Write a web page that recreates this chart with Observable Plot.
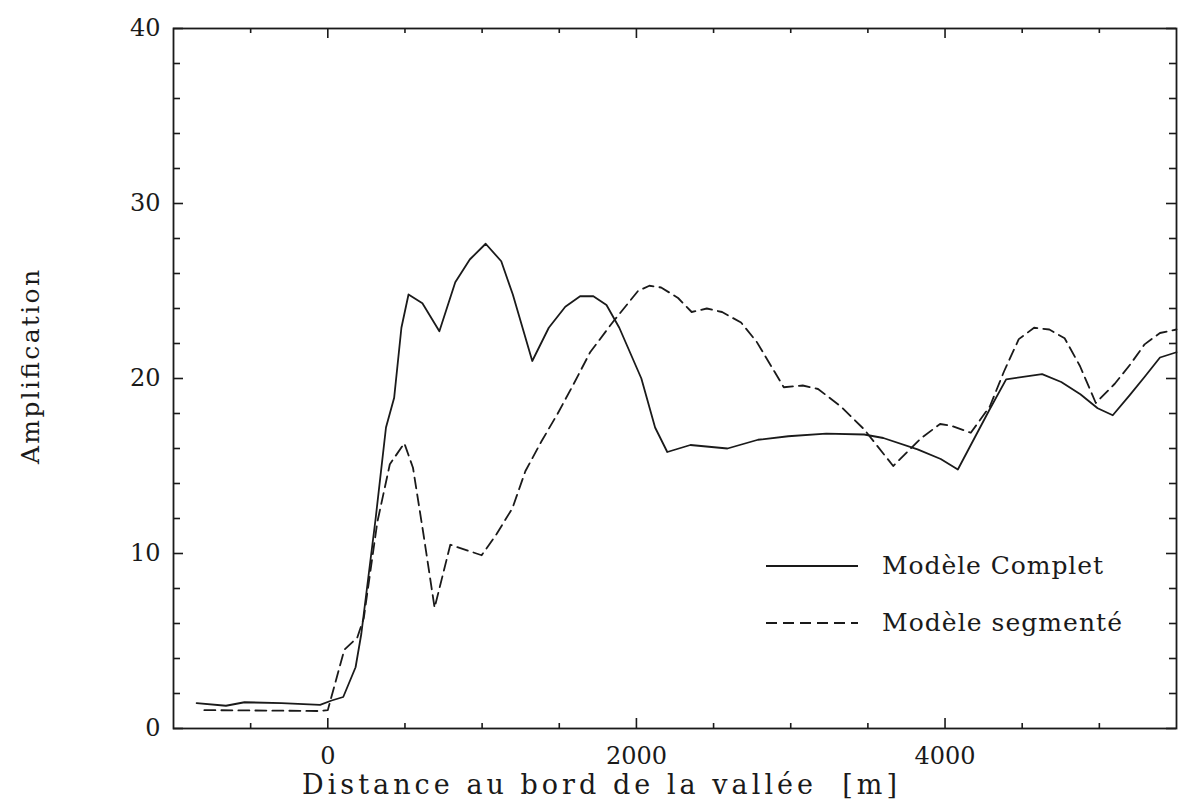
<!DOCTYPE html>
<html><head><meta charset="utf-8">
<script src="https://cdn.jsdelivr.net/npm/d3@7"></script>
<script src="https://cdn.jsdelivr.net/npm/@observablehq/plot@0.6"></script>
<style>body{margin:0;background:#fff;} text{white-space:pre;}</style>
</head><body><div id="chart"></div>
<script>
// Modèle Complet (solid)
const completX = [-850, -660, -540, -300, -50, 25, 100, 180, 217, 310, 377, 430, 477, 523, 613, 723, 826, 920, 1023, 1124, 1199, 1325, 1432, 1539, 1635, 1721, 1806, 1889, 2032, 2121, 2200, 2350, 2590, 2788, 2984, 3230, 3476, 3600, 3822, 3972, 4083, 4287, 4396, 4629, 4753, 4877, 4989, 5087, 5197, 5294, 5393, 5500];
const completY = [1.45, 1.3, 1.5, 1.45, 1.35, 1.6, 1.8, 3.5, 5.4, 12.0, 17.2, 18.9, 22.9, 24.8, 24.3, 22.7, 25.5, 26.8, 27.7, 26.7, 24.8, 21.0, 22.9, 24.1, 24.7, 24.7, 24.2, 22.9, 20.0, 17.2, 15.8, 16.2, 16.0, 16.5, 16.7, 16.85, 16.8, 16.6, 15.95, 15.4, 14.8, 18.2, 19.95, 20.25, 19.8, 19.1, 18.3, 17.9, 19.05, 20.1, 21.2, 21.5];
// Modèle segmenté (dashed)
const segX = [-800, -50, 0, 107, 191, 233, 321, 402, 496, 552, 620, 692, 794, 997, 1093, 1197, 1280, 1384, 1490, 1594, 1700, 1845, 2010, 2084, 2160, 2270, 2358, 2456, 2555, 2678, 2779, 2955, 3078, 3177, 3325, 3475, 3664, 3846, 3968, 4042, 4167, 4290, 4382, 4478, 4577, 4676, 4775, 4875, 4977, 5100, 5200, 5293, 5393, 5500];
const segY = [1.05, 1.0, 1.05, 4.5, 5.2, 6.3, 11.8, 15.1, 16.3, 14.9, 11.1, 6.9, 10.5, 9.9, 11.1, 12.6, 14.7, 16.4, 18.0, 19.7, 21.5, 23.2, 25.0, 25.3, 25.2, 24.6, 23.8, 24.0, 23.8, 23.2, 22.1, 19.5, 19.6, 19.4, 18.4, 17.1, 15.0, 16.6, 17.4, 17.3, 16.9, 18.4, 20.4, 22.25, 22.9, 22.8, 22.3, 20.7, 18.6, 19.7, 20.8, 21.95, 22.6, 22.8];

const xMajorTicks = [0, 2000, 4000];
const xMinorTicks = [-500, 500, 1000, 1500, 2500, 3000, 3500, 4500, 5000];
const yMajorTicks = [0, 10, 20, 30, 40];
const yMinorTicks = [2, 4, 6, 8, 12, 14, 16, 18, 22, 24, 26, 28, 32, 34, 36, 38];
const seriesNames = ["Modèle Complet", "Modèle segmenté"];
const xLabel = "Distance au bord de la vallée  [m]";
const yLabel = "Amplification";

const W = 1192, H = 808;
const mL = 173, mR = 16, mT = 28, mB = 80;
const iw = W - mL - mR, ih = H - mT - mB;
const FONT = "'DejaVu Serif', 'Liberation Serif', serif";
const INK = "#1a1a1a";

const complet = completX.map((x, i) => ({x, y: completY[i]}));
const seg = segX.map((x, i) => ({x, y: segY[i]}));

const chart = Plot.plot({
  width: W, height: H,
  marginLeft: mL, marginRight: mR, marginTop: mT, marginBottom: mB,
  style: {fontFamily: FONT, fontSize: "24px", color: INK, background: "#fff"},
  x: {domain: [-1000, 5500]},
  y: {domain: [0, 40]},
  marks: [
    // ticks pointing inward
    Plot.ruleX(xMajorTicks, {x: d => d, insetTop: ih - 10, stroke: INK, strokeWidth: 1.6}),
    Plot.ruleX(xMajorTicks, {x: d => d, insetBottom: ih - 10, stroke: INK, strokeWidth: 1.6}),
    Plot.ruleX(xMinorTicks, {x: d => d, insetTop: ih - 5, stroke: INK, strokeWidth: 1.6}),
    Plot.ruleX(xMinorTicks, {x: d => d, insetBottom: ih - 5, stroke: INK, strokeWidth: 1.6}),
    Plot.ruleY(yMajorTicks, {y: d => d, insetRight: iw - 10, stroke: INK, strokeWidth: 1.6}),
    Plot.ruleY(yMajorTicks, {y: d => d, insetLeft: iw - 10, stroke: INK, strokeWidth: 1.6}),
    Plot.ruleY(yMinorTicks, {y: d => d, insetRight: iw - 7, stroke: INK, strokeWidth: 1.6}),
    Plot.ruleY(yMinorTicks, {y: d => d, insetLeft: iw - 7, stroke: INK, strokeWidth: 1.6}),
    Plot.axisX(xMajorTicks, {tickSize: 0, tickPadding: 18, label: null, fontSize: 24, fill: INK, tickFormat: d => String(d)}),
    Plot.axisY(yMajorTicks, {tickSize: 0, tickPadding: 13, label: null, fontSize: 24, fill: INK, tickFormat: d => String(d)}),
    Plot.line(complet, {x: "x", y: "y", stroke: INK, strokeWidth: 1.8}),
    Plot.line(seg, {x: "x", y: "y", stroke: INK, strokeWidth: 1.8, strokeDasharray: "11,6"}),
    Plot.frame({stroke: INK, strokeWidth: 1.8})
  ]
});

const svg = d3.select(chart);
svg.append("text").text(xLabel)
  .attr("x", 302).attr("y", 786).attr("text-anchor", "start").attr("dominant-baseline", "middle")
  .attr("textLength", 595).attr("lengthAdjust", "spacing")
  .attr("font-family", FONT).attr("font-size", 27).attr("fill", INK);
svg.append("text").text(yLabel)
  .attr("transform", "translate(32,464) rotate(-90)").attr("text-anchor", "start").attr("dominant-baseline", "middle")
  .attr("textLength", 194).attr("lengthAdjust", "spacing")
  .attr("font-family", FONT).attr("font-size", 25).attr("fill", INK);

const leg = svg.append("g");
const legRows = [{y: 566, dash: null, len: 221}, {y: 623, dash: "11,6", len: 240}];
legRows.forEach((r, i) => {
  leg.append("line").attr("x1", 766).attr("x2", 858).attr("y1", r.y).attr("y2", r.y)
    .attr("stroke", INK).attr("stroke-width", 1.8).attr("stroke-dasharray", r.dash);
  leg.append("text").text(seriesNames[i]).attr("x", 882).attr("y", r.y + 1)
    .attr("text-anchor", "start").attr("dominant-baseline", "middle")
    .attr("textLength", r.len).attr("lengthAdjust", "spacing")
    .attr("font-family", FONT).attr("font-size", 25).attr("fill", INK);
});

document.getElementById("chart").appendChild(chart);
</script>
</body></html>
